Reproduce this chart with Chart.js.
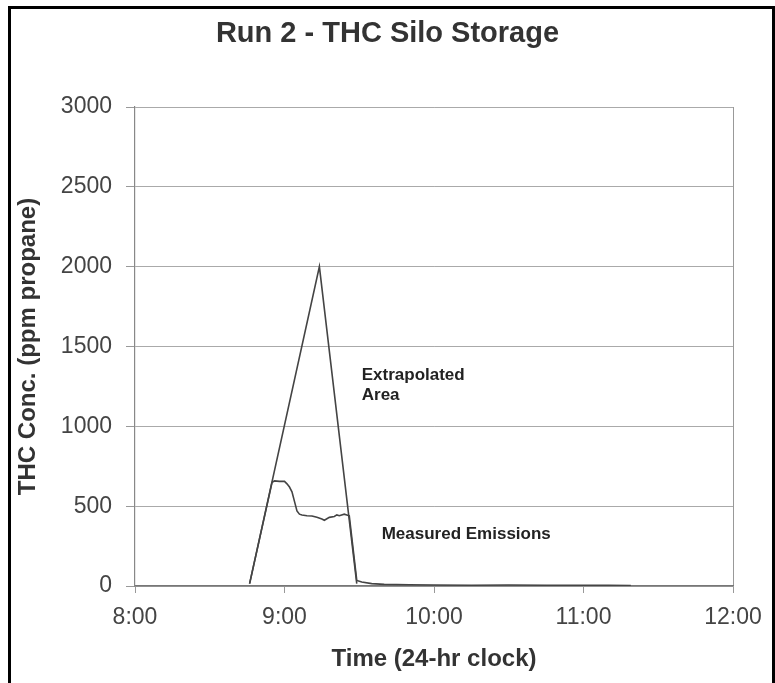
<!DOCTYPE html>
<html>
<head>
<meta charset="utf-8">
<script src="https://cdn.jsdelivr.net/npm/chart.js@4"></script>
<style>
    html, body { margin: 0; padding: 0; overflow: hidden; background: #fff; }
    #ch { position: absolute; left: 0; top: 0; }
    #frame {
        position: absolute; left: 8px; top: 6px;
        width: 761px; height: 700px;
        border: 3px solid #000; pointer-events: none;
    }
</style>
</head>
<body>
<canvas id="ch" width="775" height="683"></canvas>
<div id="frame"></div>
<script>

// extrapolated peak (triangle)
var extraTimes = ["8:46", "9:14", "9:29"];
var extraValues = [15, 2000, 15];

// measured THC readings
var measTimes = ["8:46", "8:55", "8:56", "8:58", "9:00", "9:01", "9:02", "9:03", "9:04", "9:05",
    "9:06", "9:07", "9:09", "9:11", "9:13", "9:15", "9:16", "9:18", "9:20", "9:21",
    "9:22", "9:24", "9:25", "9:26", "9:29", "9:31", "9:35", "9:40", "9:50", "10:00",
    "10:15", "10:30", "10:45", "11:00", "11:10", "11:19"];
var measValues = [15, 650, 658, 655, 655, 640, 620, 590, 530, 470,
    450, 445, 440, 438, 430, 420, 412, 430, 435, 445,
    440, 450, 445, 440, 35, 25, 15, 10, 8, 6,
    5, 6, 5, 4, 5, 3];

var notes = [
    { text: "Extrapolated", time: "9:31", value: 1321 },
    { text: "Area", time: "9:31", value: 1196 },
    { text: "Measured Emissions", time: "9:39", value: 326 }
];

var font = "'Liberation Sans', Arial, sans-serif";

function toMin(t){
    var p = t.split(":");
    return Number(p[0]) * 60 + Number(p[1]);
}

function fmtTime(v){
    return Math.floor(v / 60) + ":" + String(v % 60).padStart(2, "0");
}

function points(times, values){
    return times.map((t, i) => ({ x: toMin(t), y: values[i] }));
}

var notesPlugin = {
    id: "notes",
    afterDatasetsDraw(chart){
        const ctx = chart.ctx;
        const xs = chart.scales.x;
        const ys = chart.scales.y;
        ctx.save();
        ctx.font = "bold 17px " + font;
        ctx.fillStyle = "#222";
        ctx.textAlign = "left";
        ctx.textBaseline = "middle";
        notes.forEach((n) => {
            ctx.fillText(n.text, xs.getPixelForValue(toMin(n.time)), ys.getPixelForValue(n.value));
        });
        ctx.restore();
    }
};

new Chart(document.getElementById("ch"), {
    type: "line",
    data: {
        datasets: [{
            label: "Extrapolated",
            data: points(extraTimes, extraValues),
            borderColor: "#444",
            borderWidth: 1.6,
            pointRadius: 0
        }, {
            label: "Measured",
            data: points(measTimes, measValues),
            borderColor: "#444",
            borderWidth: 1.6,
            pointRadius: 0
        }]
    },
    options: {
        responsive: false,
        animation: false,
        devicePixelRatio: 1,
        layout: { padding: 0 },
        scales: {
            x: {
                type: "linear",
                min: 480,
                max: 720,
                afterFit: (s) => { s.height = 97; },
                ticks: {
                    stepSize: 60,
                    callback: (v) => fmtTime(v),
                    font: { family: font, size: 23 },
                    color: "#444",
                    padding: 11,
                    maxRotation: 0
                },
                grid: {
                    color: (c) => (c.tick && c.tick.value === 720) ? "#999" : "rgba(0,0,0,0)",
                    tickColor: "#999",
                    tickLength: 7
                },
                border: { color: "#777", width: 1.5 },
                title: {
                    display: true,
                    text: "Time (24-hr clock)",
                    font: { family: font, size: 24, weight: "bold" },
                    color: "#333",
                    padding: { top: 0, bottom: 9 }
                }
            },
            y: {
                min: 0,
                max: 3000,
                afterFit: (s) => { s.width = 135; },
                ticks: {
                    stepSize: 500,
                    callback: (v) => String(v),
                    font: { family: font, size: 23 },
                    color: "#444",
                    padding: 14
                },
                grid: {
                    color: "#aaa",
                    tickColor: "#999",
                    tickLength: 9
                },
                border: { color: "#888", width: 1.2 },
                title: {
                    display: true,
                    text: "THC Conc. (ppm propane)",
                    font: { family: font, size: 24, weight: "bold" },
                    color: "#333",
                    padding: { top: 14, bottom: 0 }
                }
            },
            // empty right margin so the title centres on the whole picture
            yRight: {
                position: "right",
                afterFit: (s) => { s.width = 42; },
                ticks: { display: false },
                grid: { display: false },
                border: { display: false }
            }
        },
        plugins: {
            legend: { display: false },
            tooltip: { enabled: false },
            title: {
                display: true,
                text: "Run 2 - THC Silo Storage",
                font: { family: font, size: 29, weight: "bold" },
                color: "#333",
                padding: { top: 17, bottom: 55.2 }
            }
        }
    },
    plugins: [notesPlugin]
});

</script>
</body>
</html>
